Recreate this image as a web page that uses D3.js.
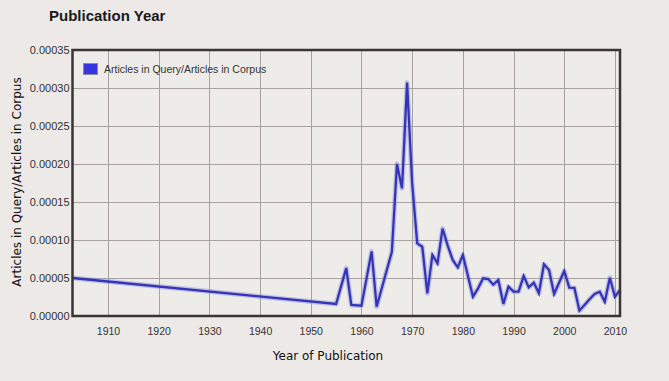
<!DOCTYPE html>
<html>
<head>
<meta charset="utf-8">
<script src="https://cdnjs.cloudflare.com/ajax/libs/d3/7.8.5/d3.min.js"></script>
<style>
  html, body { margin: 0; padding: 0; background: #ece9e6; }
  svg { display: block; }
</style>
</head>
<body>
<svg id="chart" width="669" height="381"></svg>
<script>
const years = [1903, 1955, 1957, 1958, 1960, 1962, 1963, 1966, 1967, 1968, 1969, 1970, 1971, 1972, 1973, 1974, 1975, 1976, 1977, 1978, 1979, 1980, 1982, 1983, 1984, 1985, 1986, 1987, 1988, 1989, 1990, 1991, 1992, 1993, 1994, 1995, 1996, 1997, 1998, 2000, 2001, 2002, 2003, 2004, 2005, 2006, 2007, 2008, 2009, 2010, 2011];
const ratios = [0.0000500, 0.0000158, 0.0000630, 0.0000145, 0.0000136, 0.0000850, 0.0000122, 0.0000846, 0.0002000, 0.0001680, 0.0003070, 0.0001750, 0.0000956, 0.0000912, 0.0000298, 0.0000803, 0.0000693, 0.0001150, 0.0000930, 0.0000737, 0.0000640, 0.0000803, 0.0000254, 0.0000364, 0.0000496, 0.0000487, 0.0000412, 0.0000474, 0.0000160, 0.0000386, 0.0000320, 0.0000320, 0.0000526, 0.0000377, 0.0000438, 0.0000298, 0.0000680, 0.0000605, 0.0000289, 0.0000592, 0.0000373, 0.0000370, 0.0000070, 0.0000145, 0.0000220, 0.0000290, 0.0000320, 0.0000188, 0.0000504, 0.0000254, 0.0000342];
const xTicks = [1910, 1920, 1930, 1940, 1950, 1960, 1970, 1980, 1990, 2000, 2010];
const yTicks = [0, 0.00005, 0.0001, 0.00015, 0.0002, 0.00025, 0.0003, 0.00035];
const title = "Publication Year";
const seriesName = "Articles in Query/Articles in Corpus";
const xTitle = "Year of Publication";
const yTitle = "Articles in Query/Articles in Corpus";

const data = years.map((y, i) => ({ year: y, value: ratios[i] }));

const svg = d3.select("#chart");
const L = 72.5, R = 620, T = 50, B = 316;

const x = d3.scaleLinear().domain([1903, 2011]).range([L, R]);
const y = d3.scaleLinear().domain([0, 0.00035]).range([B, T]);

// title
svg.append("text").attr("x", 49).attr("y", 21)
  .attr("font-family", "Liberation Sans, Arial, sans-serif")
  .attr("font-weight", "bold").attr("font-size", 15).attr("fill", "#1a1a1a")
  .text(title);

// plot background
svg.append("rect").attr("x", L).attr("y", T).attr("width", R - L).attr("height", B - T)
  .attr("fill", "#eeece9");

// grid
const grid = svg.append("g");
grid.selectAll("line.v").data(xTicks).enter().append("line")
  .attr("x1", d => Math.round(x(d)) + 0.5).attr("x2", d => Math.round(x(d)) + 0.5)
  .attr("y1", T).attr("y2", B)
  .attr("stroke", "#a8a39f").attr("stroke-width", 1);
grid.selectAll("line.h").data(yTicks.slice(1, -1)).enter().append("line")
  .attr("y1", d => Math.round(y(d)) + 0.5).attr("y2", d => Math.round(y(d)) + 0.5)
  .attr("x1", L).attr("x2", R)
  .attr("stroke", "#a8a39f").attr("stroke-width", 1);

// axes (labels only)
const xAxis = d3.axisBottom(x).tickValues(xTicks).tickFormat(d3.format("d")).tickSize(0).tickPadding(12);
const gx = svg.append("g").attr("transform", `translate(0,${B})`).call(xAxis);
gx.select(".domain").remove();
gx.selectAll("text").attr("font-family", "Liberation Sans, Arial, sans-serif")
  .attr("font-size", 10.5).attr("fill", "#333");

const yAxis = d3.axisLeft(y).tickValues(yTicks).tickFormat(d3.format(".5f")).tickSize(0).tickPadding(3);
const gy = svg.append("g").attr("transform", `translate(${L},0)`).call(yAxis);
gy.select(".domain").remove();
gy.selectAll("text").attr("font-family", "Liberation Sans, Arial, sans-serif")
  .attr("font-size", 11).attr("fill", "#333");

// line
const line = d3.line().x(d => x(d.year)).y(d => y(d.value));
svg.append("path").datum(data).attr("d", line)
  .attr("fill", "none").attr("stroke", "#8c8cd8").attr("stroke-opacity", 0.45)
  .attr("stroke-width", 5).attr("stroke-linejoin", "round");
svg.append("path").datum(data).attr("d", line)
  .attr("fill", "none").attr("stroke", "#3434b6")
  .attr("stroke-width", 2.3).attr("stroke-linejoin", "miter");

// border
svg.append("rect").attr("x", L).attr("y", T).attr("width", R - L).attr("height", B - T)
  .attr("fill", "none").attr("stroke", "#3b3531").attr("stroke-width", 2.5);

// legend
svg.append("rect").attr("x", 83.5).attr("y", 63.5).attr("width", 14).attr("height", 11)
  .attr("fill", "#3535e0").attr("stroke", "#8a8a9a").attr("stroke-width", 1);
svg.append("text").attr("x", 104).attr("y", 72.5)
  .attr("font-family", "Liberation Sans, Arial, sans-serif")
  .attr("font-size", 10.5).attr("fill", "#333")
  .text(seriesName);

// axis titles
svg.append("text").attr("x", 328).attr("y", 360).attr("text-anchor", "middle")
  .attr("font-family", "DejaVu Sans, sans-serif").attr("font-size", 12).attr("fill", "#111")
  .text(xTitle);
svg.append("text").attr("transform", "translate(21,182) rotate(-90)").attr("text-anchor", "middle")
  .attr("font-family", "DejaVu Sans, sans-serif").attr("font-size", 12).attr("fill", "#111")
  .text(yTitle);
</script>
</body>
</html>
